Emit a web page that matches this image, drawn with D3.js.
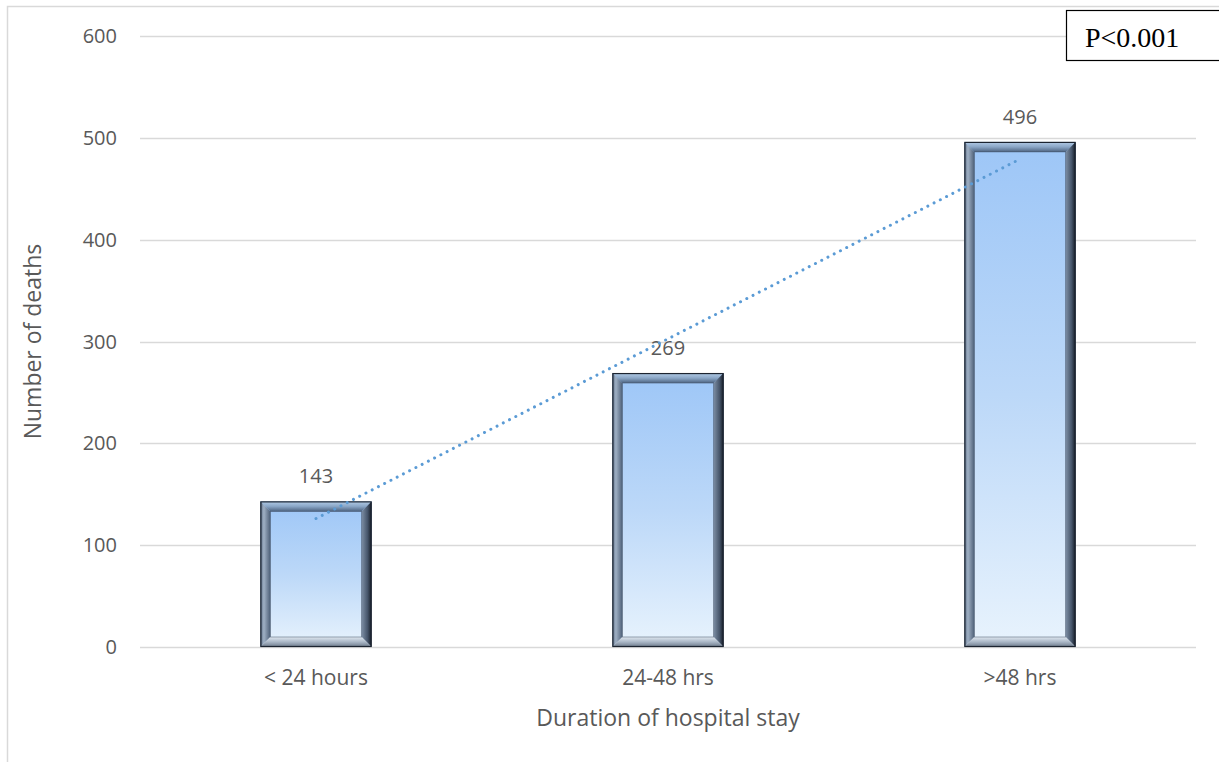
<!DOCTYPE html>
<html>
<head>
<meta charset="utf-8">
<script src="https://cdn.jsdelivr.net/npm/d3@7"></script>
<style>
  html, body { margin: 0; padding: 0; background: #fff; }
  svg { display: block; }
</style>
</head>
<body>
<svg id="chart" width="1219" height="762"></svg>
<script>
// Deaths by duration of hospital stay
const categories = ["< 24 hours", "24-48 hrs", ">48 hrs"];
const deaths = [143, 269, 496];
const yTicks = [0, 100, 200, 300, 400, 500, 600];

const svg = d3.select("#chart");
const W = 1219, H = 762;
const margin = { left: 140, right: 23, top: 36, bottom: 115 };
const plotW = W - margin.left - margin.right;
const plotH = H - margin.top - margin.bottom;
const textColor = "#595959";
const font = "'Open Sans', 'Liberation Sans', sans-serif";

// chart frame
svg.append("path")
  .attr("d", `M7.5,${H} V6.5 H${W}`)
  .attr("fill", "none").attr("stroke", "#d9d9d9").attr("stroke-width", 1.5);

const x = d3.scaleBand().domain(categories).range([0, plotW])
  .paddingInner(0.684).paddingOuter(0.342);
const y = d3.scaleLinear().domain([0, 600]).range([plotH, 0]);

const defs = svg.append("defs");
function lin(id, x1, y1, x2, y2, stops) {
  const g = defs.append("linearGradient").attr("id", id)
    .attr("x1", x1).attr("y1", y1).attr("x2", x2).attr("y2", y2);
  stops.forEach(s => g.append("stop").attr("offset", s[0]).attr("stop-color", s[1]));
}
lin("face", 0, 0, 0, 1, [[0, "#9dc6f7"], [0.5, "#bcd8f8"], [1, "#e8f3fd"]]);
lin("bevTop", 0, 0, 0, 1, [[0, "#b4cde8"], [0.5, "#8aa6c6"], [1, "#4d6380"]]);
lin("bevLeft", 0, 0, 1, 0, [[0, "#5d6f86"], [0.35, "#9fb0c4"], [1, "#4e6078"]]);
lin("bevRight", 0, 0, 1, 0, [[0, "#7d8fa5"], [0.6, "#46556a"], [1, "#141a24"]]);
lin("bevBottom", 0, 0, 0, 1, [[0, "#dfe7f0"], [0.5, "#a9b6c5"], [1, "#6b7889"]]);

const g = svg.append("g").attr("transform", `translate(${margin.left},${margin.top})`);

// gridlines
g.append("g").selectAll("line").data(yTicks).join("line")
  .attr("x1", 0).attr("x2", plotW)
  .attr("y1", d => Math.round(y(d)) + 0.5).attr("y2", d => Math.round(y(d)) + 0.5)
  .attr("stroke", "#d9d9d9").attr("stroke-width", 1.3);

// y tick labels
g.append("g").selectAll("text").data(yTicks).join("text")
  .attr("x", -23).attr("y", d => y(d)).attr("dy", "0.35em")
  .attr("text-anchor", "end").attr("fill", textColor)
  .style("font-family", font).style("font-size", "20px")
  .text(d => d);

// beveled bars
const bev = 10;
const bars = g.append("g").selectAll("g").data(deaths).join("g");
bars.each(function(d, i) {
  const b = d3.select(this);
  const x0 = x(categories[i]), x1 = x0 + x.bandwidth();
  const y0 = y(d), y1 = y(0);
  const pts = a => a.map(p => p.join(",")).join(" ");
  b.append("rect").attr("x", x0).attr("y", y0).attr("width", x1 - x0).attr("height", y1 - y0)
    .attr("fill", "url(#face)");
  b.append("polygon").attr("points", pts([[x0, y0], [x1, y0], [x1 - bev, y0 + bev], [x0 + bev, y0 + bev]]))
    .attr("fill", "url(#bevTop)");
  b.append("polygon").attr("points", pts([[x0, y0], [x0 + bev, y0 + bev], [x0 + bev, y1 - bev], [x0, y1]]))
    .attr("fill", "url(#bevLeft)");
  b.append("polygon").attr("points", pts([[x1, y0], [x1, y1], [x1 - bev, y1 - bev], [x1 - bev, y0 + bev]]))
    .attr("fill", "url(#bevRight)");
  b.append("polygon").attr("points", pts([[x0, y1], [x0 + bev, y1 - bev], [x1 - bev, y1 - bev], [x1, y1]]))
    .attr("fill", "url(#bevBottom)");
  b.append("rect").attr("x", x0 + bev).attr("y", y0 + bev)
    .attr("width", x1 - x0 - 2 * bev).attr("height", y1 - y0 - 2 * bev)
    .attr("fill", "none").attr("stroke", "#3d4d62").attr("stroke-width", 0.8).attr("stroke-opacity", 0.6);
  b.append("rect").attr("x", x0 + 0.5).attr("y", y0 + 0.5)
    .attr("width", x1 - x0 - 1).attr("height", y1 - y0 - 1)
    .attr("fill", "none").attr("stroke", "#1c2430").attr("stroke-width", 1.2);
});

// value labels
g.append("g").selectAll("text").data(deaths).join("text")
  .attr("x", (d, i) => x(categories[i]) + x.bandwidth() / 2)
  .attr("y", d => y(d) - 18)
  .attr("text-anchor", "middle").attr("fill", textColor)
  .style("font-family", font).style("font-size", "20px")
  .text(d => d);

// linear trendline (least squares over category index)
const xs = deaths.map((d, i) => i + 1);
const mx = d3.mean(xs), my = d3.mean(deaths);
const slope = d3.sum(xs.map((v, i) => (v - mx) * (deaths[i] - my))) / d3.sum(xs.map(v => (v - mx) ** 2));
const icpt = my - slope * mx;
const trend = xs.map((v, i) => [x(categories[i]) + x.bandwidth() / 2, y(icpt + slope * v)]);
g.append("path")
  .attr("d", d3.line()(trend))
  .attr("fill", "none").attr("stroke", "#5b9bd5").attr("stroke-width", 3)
  .attr("stroke-linecap", "round").attr("stroke-dasharray", "0.01 7");

// x category labels
g.append("g").selectAll("text").data(categories).join("text")
  .attr("x", d => x(d) + x.bandwidth() / 2).attr("y", plotH + 38)
  .attr("text-anchor", "middle").attr("fill", textColor)
  .style("font-family", font).style("font-size", "21px")
  .text(d => d);

// axis titles
svg.append("text")
  .attr("x", margin.left + plotW / 2).attr("y", 726)
  .attr("text-anchor", "middle").attr("fill", textColor)
  .style("font-family", font).style("font-size", "23px")
  .text("Duration of hospital stay");
svg.append("text")
  .attr("transform", `translate(41,${margin.top + plotH / 2}) rotate(-90)`)
  .attr("text-anchor", "middle").attr("fill", textColor)
  .style("font-family", font).style("font-size", "23px")
  .text("Number of deaths");

// significance box
svg.append("rect").attr("x", 1066.5).attr("y", 10.5).attr("width", 160).attr("height", 50)
  .attr("fill", "#fff").attr("stroke", "#000").attr("stroke-width", 1.2);
svg.append("text").attr("x", 1085).attr("y", 47)
  .attr("fill", "#000")
  .style("font-family", "'Liberation Serif', 'Times New Roman', serif").style("font-size", "28px")
  .text("P<0.001");
</script>
</body>
</html>
